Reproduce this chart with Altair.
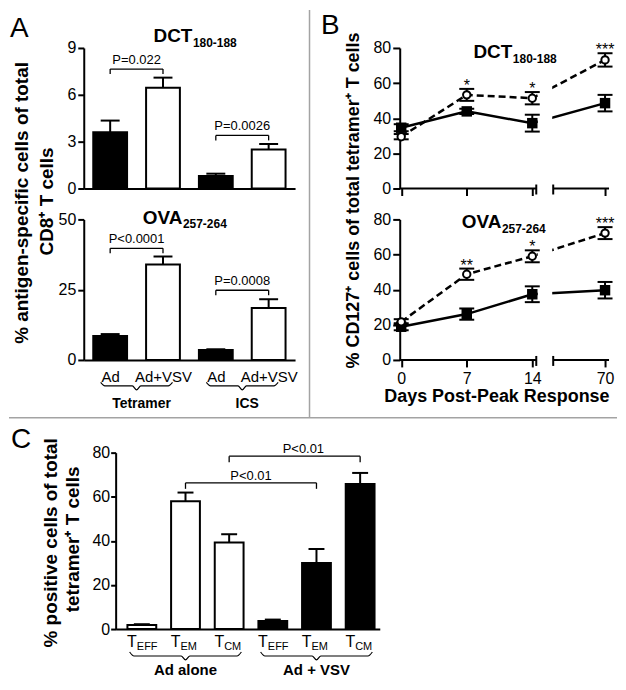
import altair as alt
import pandas as pd

FONT = "Liberation Sans"

# ---------------- Panel A : % antigen-specific cells of total CD8+ T cells ----------------
a_pos = [1, 2, 3, 4]
a_treat = ["Ad", "Ad+VSV", "Ad", "Ad+VSV"]
a_dct_mean = [3.6, 6.45, 0.8, 2.5]
a_dct_sem = [0.75, 0.65, 0.15, 0.35]
a_ova_mean = [8.5, 34.0, 3.5, 18.5]
a_ova_sem = [0.7, 2.8, 0.3, 3.1]
a_dct_ticks = [0, 3, 6, 9]
a_ova_ticks = [0, 25, 50]
a_dct_br_from = [1, 3]
a_dct_br_to = [2, 4]
a_dct_br_y = [7.65, 3.4]
a_dct_br_text = ["P=0.022", "P=0.0026"]
a_dct_br_text_pos = [1.5, 3.5]
a_ova_br_from = [1, 3]
a_ova_br_to = [2, 4]
a_ova_br_y = [39.7, 24.8]
a_ova_br_text = ["P<0.0001", "P=0.0008"]
a_ova_br_text_pos = [1.5, 3.5]
a_groups = ["Tetramer", "ICS"]
a_group_pos = [1.5, 3.5]

# ---------------- Panel B : % CD127+ cells of total tetramer+ T cells ----------------
b_days = [0, 7, 14, 70]
b_ticks = [0, 20, 40, 60, 80]
b_dct_ad = [34.6, 43.9, 37.2, 48.6]
b_dct_ad_sem = [2.0, 1.5, 4.8, 4.7]
b_dct_vsv = [29.5, 53.3, 51.4, 73.2]
b_dct_vsv_sem = [1.5, 3.4, 3.5, 3.8]
b_ova_ad = [18.9, 26.1, 37.4, 39.7]
b_ova_ad_sem = [2.0, 3.2, 4.5, 4.7]
b_ova_vsv = [21.7, 48.8, 59.0, 72.2]
b_ova_vsv_sem = [1.5, 3.2, 3.4, 3.4]
b_dct_star_days = [7, 14, 70]
b_dct_stars = ["*", "*", "***"]
b_ova_star_days = [7, 14, 70]
b_ova_stars = ["**", "*", "***"]

# ---------------- Panel C : % positive cells of total tetramer+ T cells ----------------
c_pos = [1, 2, 3, 4, 5, 6]
c_group = ["Ad alone", "Ad alone", "Ad alone", "Ad + VSV", "Ad + VSV", "Ad + VSV"]
c_sub = ["EFF", "EM", "CM", "EFF", "EM", "CM"]
c_mean = [1.8, 58.0, 39.2, 3.7, 30.0, 65.8]
c_sem = [0.4, 3.9, 3.8, 0.6, 6.3, 5.0]
c_ticks = [0, 20, 40, 60, 80]
c_br_from = [3, 2]
c_br_to = [6, 5]
c_br_y = [78.4, 66.3]
c_br_text = ["P<0.01", "P<0.01"]
c_br_text_pos = [4.7, 3.5]
c_groups = ["Ad alone", "Ad + VSV"]
c_group_pos = [2, 5]


# ---------------- helpers ----------------
def one(s=""):
    return alt.Chart(pd.DataFrame({"t": [s]}))


def text(s, x, y, size, bold=False, align="center", baseline="alphabetic", angle=None):
    kw = dict(font=FONT, fontSize=size, color="black", align=align, baseline=baseline)
    if bold:
        kw["fontWeight"] = "bold"
    if angle is not None:
        kw["angle"] = angle
    return one(s).mark_text(**kw).encode(text="t:N", x=alt.value(x), y=alt.value(y))


def hrule(x, x2, y, color="black", width=2):
    return one().mark_rule(color=color, strokeWidth=width).encode(
        x=alt.value(x), x2=alt.value(x2), y=alt.value(y))


def vrule(x, y, y2, color="black", width=2):
    return one().mark_rule(color=color, strokeWidth=width).encode(
        x=alt.value(x), y=alt.value(y), y2=alt.value(y2))


def bar_panel(pos, mean, sem, key, key_dom, key_rng, xdom, ymax, yticks, H, half, cap,
              br_from, br_to, br_y, br_text, br_text_pos, br_tick_px, br_dy, xaxis, ytick, ypad,
              xrange=None, yrange=None, yoffset=None):
    xs_kw = dict(domain=xdom, nice=False, zero=False)
    ys_kw = dict(domain=[0, ymax], nice=False, zero=False)
    if xrange is not None:
        xs_kw["range"] = xrange
    if yrange is not None:
        ys_kw["range"] = yrange
    xs = alt.Scale(**xs_kw)
    ys = alt.Scale(**ys_kw)
    ya_kw = dict(values=yticks, tickSize=ytick, labelPadding=ypad, labelFontSize=16)
    if yoffset is not None:
        ya_kw["offset"] = yoffset
    yaxis = alt.Axis(**ya_kw)

    def X(f):
        return alt.X(f"{f}:Q", scale=xs, axis=xaxis, title=None)

    def Y(f):
        return alt.Y(f"{f}:Q", scale=ys, axis=yaxis, title=None)

    df = pd.DataFrame({"pos": pos, "mean": mean, "sem": sem, "key": key})
    base = alt.Chart(df).transform_calculate(
        left=f"datum.pos - {half}", right=f"datum.pos + {half}",
        top="datum.mean + datum.sem", zero="0")
    bars = base.mark_bar(stroke="black", strokeWidth=2, opacity=1).encode(
        x=X("left"), x2="right:Q", y=Y("zero"), y2="mean:Q",
        fill=alt.Fill("key:N", scale=alt.Scale(domain=key_dom, range=key_rng), legend=None))
    err = base.mark_rule(color="black", strokeWidth=2).encode(x=X("pos"), y=Y("mean"), y2="top:Q")
    caps = base.mark_tick(color="black", orient="horizontal", size=cap, thickness=2, opacity=1).encode(
        x=X("pos"), y=Y("top"))
    drop = br_tick_px * ymax / H
    bdf = pd.DataFrame({"a": br_from, "b": br_to, "y": br_y, "lab": br_text, "tp": br_text_pos})
    bb = alt.Chart(bdf).transform_calculate(lo=f"datum.y - {drop}")
    br_h = bb.mark_rule(color="black", strokeWidth=1.3).encode(x=X("a"), x2="b:Q", y=Y("y"))
    br_l = bb.mark_rule(color="black", strokeWidth=1.3).encode(x=X("a"), y=Y("y"), y2="lo:Q")
    br_r = bb.mark_rule(color="black", strokeWidth=1.3).encode(x=X("b"), y=Y("y"), y2="lo:Q")
    br_t = bb.mark_text(font=FONT, fontSize=13, color="black", dy=br_dy, baseline="alphabetic").encode(
        x=X("tp"), y=Y("y"), text="lab:N")
    return [bars, err, caps, br_h, br_l, br_r, br_t], X, Y


def brace(centers, span, e, y_top, y_mid, y_tip, X, Y):
    rows = []
    for g, m in enumerate(centers):
        x0, x1 = m - span, m + span
        pts = [(x0, y_top), (x0 + e, y_mid), (m - e, y_mid), (m, y_tip),
               (m + e, y_mid), (x1 - e, y_mid), (x1, y_top)]
        rows += [{"g": g, "x": px, "y": py} for px, py in pts]
    return alt.Chart(pd.DataFrame(rows)).mark_line(
        color="black", strokeWidth=1.2, interpolate="monotone").encode(
        x=X("x"), y=Y("y"), detail="g:N")


def b_panel(ad, ad_sem, vsv, vsv_sem, star_days, stars, show_x):
    W, H = 210, 141
    n = len(b_days)
    df = pd.DataFrame({"day": b_days + b_days, "mean": ad + vsv, "sem": ad_sem + vsv_sem,
                       "series": ["Ad"] * n + ["Ad+VSV"] * n})
    xs = alt.Scale(domain=[0, 14, 70], range=[1.5, 133, 206], nice=False, zero=False)
    ys = alt.Scale(domain=[0, 80], nice=False)
    axis_kw = dict(values=b_days, domain=False, tickSize=7, labels=show_x, labelFontSize=16,
                   labelPadding=4, labelFlush=False, labelOverlap=False, grid=False)
    if show_x:
        axis_kw.update(titleX=97, titleY=42, titleAlign="center", titleBaseline="alphabetic",
                       titleFontSize=18, titleFontWeight="bold")
    xaxis = alt.Axis(**axis_kw)
    xtitle = "Days Post-Peak Response" if show_x else None
    yaxis = alt.Axis(values=b_ticks, tickSize=7, labelPadding=2, labelFontSize=16)

    def X(f):
        return alt.X(f"{f}:Q", scale=xs, axis=xaxis, title=xtitle)

    def Y(f):
        return alt.Y(f"{f}:Q", scale=ys, axis=yaxis, title=None)

    base = alt.Chart(df).transform_calculate(lo="datum.mean - datum.sem", hi="datum.mean + datum.sem")
    vsv_b = base.transform_filter(alt.datum.series == "Ad+VSV")
    ad_b = base.transform_filter(alt.datum.series == "Ad")
    dashed = vsv_b.mark_line(color="black", strokeWidth=2.5, strokeDash=[7, 4]).encode(x=X("day"), y=Y("mean"))
    solid = ad_b.mark_line(color="black", strokeWidth=2.5).encode(x=X("day"), y=Y("mean"))
    mask = one().mark_rect(color="white", opacity=1).encode(
        x=alt.value(138.5), x2=alt.value(153), y=alt.value(-20), y2=alt.value(H))
    err = base.mark_rule(color="black", strokeWidth=2).encode(x=X("day"), y=Y("lo"), y2="hi:Q")
    cap_hi = base.mark_tick(color="black", orient="horizontal", size=15, thickness=2, opacity=1).encode(
        x=X("day"), y=Y("hi"))
    cap_lo = base.mark_tick(color="black", orient="horizontal", size=15, thickness=2, opacity=1).encode(
        x=X("day"), y=Y("lo"))
    squares = ad_b.mark_square(color="black", size=110, opacity=1).encode(x=X("day"), y=Y("mean"))
    circles = vsv_b.mark_point(shape="circle", filled=True, fill="white", stroke="black",
                               strokeWidth=2, size=55, opacity=1).encode(x=X("day"), y=Y("mean"))
    vsv_top = {d: m + s for d, m, s in zip(b_days, vsv, vsv_sem)}
    sdf = pd.DataFrame({"day": star_days, "hi": [vsv_top[d] for d in star_days], "s": stars})
    star = alt.Chart(sdf).mark_text(font=FONT, fontSize=16, color="black", dy=2, baseline="alphabetic").encode(
        x=X("day"), y=Y("hi"), text="s:N")
    segs = [hrule(0, 137, H), vrule(137, H - 4, H + 6), hrule(154, 210, H), vrule(154, H - 4, H + 6)]
    return [dashed, solid, mask, err, cap_hi, cap_lo, squares, circles, star] + segs


# ---------------- Panel A top (DCT) ----------------
WA, HA = 212, 141
xaxis_a_top = alt.Axis(ticks=False, labels=False, domain=True, grid=False)
lay_at, Xat, Yat = bar_panel(a_pos, a_dct_mean, a_dct_sem, a_treat, ["Ad", "Ad+VSV"], ["black", "white"],
                             [0.5, 4.5], 9, a_dct_ticks, HA, 0.32, 19,
                             a_dct_br_from, a_dct_br_to, a_dct_br_y, a_dct_br_text, a_dct_br_text_pos, 5, -5,
                             xaxis_a_top, 6, 2)
A_top = alt.layer(
    *lay_at,
    text("A", -74, -11, 28, align="left"),
    text("DCT", 109, -6, 19, bold=True, align="right"),
    text("180-188", 109.5, -1, 12, bold=True, align="left"),
    text("% antigen-specific cells of total", -61.5, 155.5, 19, bold=True, baseline="middle", angle=270),
    text("CD8\u207a T cells", -37, 154, 19, bold=True, baseline="middle", angle=270),
).properties(width=WA, height=HA)

# ---------------- Panel A bottom (OVA) ----------------
a_label_expr = "[" + ",".join(f"'{s}'" for s in a_treat) + "][datum.value - 1]"
xaxis_a_bot = alt.Axis(values=a_pos, labelExpr=a_label_expr, ticks=False, tickSize=0, labelPadding=10,
                       labelFontSize=15, labelOverlap=False, labelFlush=False, domain=True, grid=False)
lay_ab, Xab, Yab = bar_panel(a_pos, a_ova_mean, a_ova_sem, a_treat, ["Ad", "Ad+VSV"], ["black", "white"],
                             [0.5, 4.5], 50, a_ova_ticks, HA, 0.32, 19,
                             a_ova_br_from, a_ova_br_to, a_ova_br_y, a_ova_br_text, a_ova_br_text_pos, 5, -5,
                             xaxis_a_bot, 6, 2)


def val_ab(px):
    return (HA - px) * 50 / HA


a_grp = alt.Chart(pd.DataFrame({"g": a_groups, "p": a_group_pos})).mark_text(
    font=FONT, fontSize=14, fontWeight="bold", color="black", dx=5, baseline="alphabetic").encode(
    x=Xab("p"), y=alt.value(189), text="g:N")
A_bot = alt.layer(
    *lay_ab,
    a_grp,
    brace(a_group_pos, 0.68, 0.08, val_ab(163.5), val_ab(167), val_ab(171), Xab, Yab),
    text("OVA", 99, 5, 19, bold=True, align="right"),
    text("257-264", 99.5, 9, 12, bold=True, align="left"),
    vrule(226.5, -210, 199, color="#a3a3a3", width=1.5),
    hrule(-75, 535, 199, color="#a3a3a3", width=1.5),
).properties(width=WA, height=HA)

# ---------------- Panel B ----------------
B_top = alt.layer(
    *b_panel(b_dct_ad, b_dct_ad_sem, b_dct_vsv, b_dct_vsv_sem, b_dct_star_days, b_dct_stars, False),
    text("B", -79, -14, 28, align="left"),
    text("DCT", 113, 10, 19, bold=True, align="right"),
    text("180-188", 113.5, 15, 12, bold=True, align="left"),
    text("% CD127\u207a cells of total tetramer\u207a T cells", -46, 153, 18, bold=True,
         baseline="middle", angle=270),
).properties(width=210, height=141)

B_bot = alt.layer(
    *b_panel(b_ova_ad, b_ova_ad_sem, b_ova_vsv, b_ova_vsv_sem, b_ova_star_days, b_ova_stars, True),
    text("OVA", 102, 9, 19, bold=True, align="right"),
    text("257-264", 102.5, 14, 12, bold=True, align="left"),
).properties(width=210, height=141)

# ---------------- Panel C ----------------
# C sits in the left grid column; its plot area is shifted inside its cell via the scale ranges
CX, CY = 32, 62            # shift of the plot area inside the cell
WC, HC = 265, 177          # plot area size
xaxis_c = alt.Axis(ticks=False, labels=False, domain=True, grid=False)
lay_c, Xc, Yc = bar_panel(c_pos, c_mean, c_sem, c_group, ["Ad alone", "Ad + VSV"], ["white", "black"],
                          [0.4, 6.45], 80, c_ticks, HC, 0.33, 16,
                          c_br_from, c_br_to, c_br_y, c_br_text, c_br_text_pos, 6, -3,
                          xaxis_c, 5, 1,
                          xrange=[CX, CX + WC], yrange=[CY + HC, CY], yoffset=-CX)


def val_c(px):
    return (HC - px) * 80 / HC


ldf = pd.DataFrame({"p": c_pos, "sub": c_sub})
c_T = alt.Chart(ldf).mark_text(font=FONT, fontSize=16, color="black", align="right", dx=-5,
                               baseline="alphabetic").encode(x=Xc("p"), y=alt.value(CY + 195), text=alt.value("T"))
c_S = alt.Chart(ldf).mark_text(font=FONT, fontSize=11, color="black", align="left", dx=-5,
                               baseline="alphabetic").encode(x=Xc("p"), y=alt.value(CY + 198.5), text="sub:N")
c_grp = alt.Chart(pd.DataFrame({"g": c_groups, "p": c_group_pos})).mark_text(
    font=FONT, fontSize=15, fontWeight="bold", color="black", baseline="alphabetic").encode(
    x=Xc("p"), y=alt.value(CY + 223), text="g:N")
C = alt.layer(
    *lay_c, c_T, c_S, c_grp,
    brace(c_group_pos, 1.28, 0.1, val_c(200), val_c(204), val_c(208), Xc, Yc),
    text("C", CX - 105, CY - 5, 28, align="left"),
    text("% positive cells of total", CX - 64.5, CY + 90.5, 19, bold=True, baseline="middle", angle=270),
    text("tetramer\u207a T cells", CX - 42.5, CY + 87, 19, bold=True, baseline="middle", angle=270),
).properties(width=WA, height=CY + HC)

chart = alt.concat(
    A_top, B_top, A_bot, B_bot, C,
    columns=2, spacing={"row": 31, "column": 105}, bounds="flush",
).resolve_scale(fill="independent").properties(padding=0).configure_view(stroke=None).configure_axis(
    domainColor="black", domainWidth=2, tickColor="black", tickWidth=2, labelColor="black",
    labelFont=FONT, titleFont=FONT, titleColor="black", grid=False, labelFlush=False)

chart.save("out.html", embed_options={"renderer": "svg", "actions": False})
